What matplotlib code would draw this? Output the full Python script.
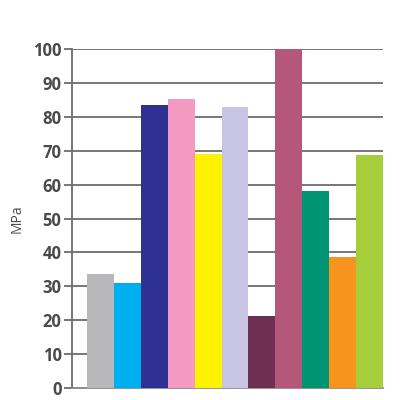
import matplotlib
matplotlib.use("Agg")
import matplotlib.pyplot as plt

categories = ["A", "B", "C", "D", "E", "F", "G", "H", "I", "J", "K"]
values = [33.7, 31, 83.6, 85.3, 69, 83, 21.3, 100, 58.1, 38.5, 68.8]
colors = ["#b8b8ba", "#00aeef", "#2e3192", "#f49ac1", "#fff200", "#c7c5e3",
          "#6e2f50", "#b5577a", "#009472", "#f7941d", "#a6cd3a"]
yticks = list(range(0, 101, 10))

text_color = "#4a4a4a"
plt.rcParams['font.family'] = ['Open Sans', 'DejaVu Sans']

fig = plt.figure(figsize=(4, 4), dpi=100)
ax = fig.add_axes([0.18, 0.03, 0.7775, 0.8475])

xs = list(range(len(categories)))
ax.bar(xs, values, width=1.0, color=colors, zorder=3, linewidth=0)

ax.set_xlim(-1.06, len(categories) - 0.5)
ax.set_ylim(0, 100)
ax.set_yticks(yticks)
ax.set_yticklabels([str(t) for t in yticks], fontsize=12, fontweight='bold', color=text_color)
ax.set_xticks([])
ax.yaxis.grid(True, color="#6b6b6b", linewidth=1.3, zorder=0)
ax.set_axisbelow(True)
ax.tick_params(axis='y', length=6, width=1.3, color="#6b6b6b", pad=1.5)

for s in ['top', 'right']:
    ax.spines[s].set_visible(False)
ax.spines['left'].set_color("#6b6b6b")
ax.spines['left'].set_linewidth(1.3)
ax.spines['bottom'].set_color("#8a8a8a")
ax.spines['bottom'].set_linewidth(1.3)

ax.set_ylabel("MPa", fontsize=10, color=text_color, labelpad=6)

fig.savefig("out.png", dpi=100)
